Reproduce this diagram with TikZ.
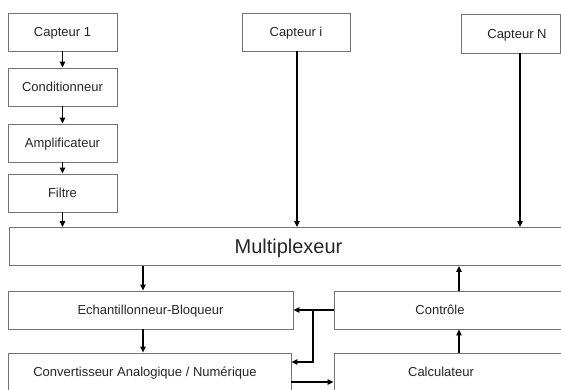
\documentclass[tikz,border=0pt]{standalone}
\usepackage{fontspec}
\setmainfont{Liberation Sans}
\usetikzlibrary{arrows.meta,calc}
\begin{document}
\begin{tikzpicture}[x=1pt,y=-1pt,
  box/.style={draw=black!55, line width=0.9pt, rectangle, inner sep=0pt,
    font=\fontsize{13}{15}\selectfont, text=black!85, text height=9.4pt, text depth=0pt},
  bigbox/.style={box, font=\fontsize{20}{24}\selectfont, text height=14.4pt},
  arr/.style={draw=black, line width=1.2pt, -{Triangle[length=6pt,width=5.5pt]}}]
\useasboundingbox (0,0) rectangle (561,390);
% top left chain
\node[box, minimum width=109pt, minimum height=38pt] (c1) at (62.5,32) {Capteur 1};
\node[box, minimum width=109pt, minimum height=38pt] (cond) at (62.5,87) {Conditionneur};
\node[box, minimum width=109pt, minimum height=38pt] (ampl) at (62.5,143) {Amplificateur};
\node[box, minimum width=109pt, minimum height=38pt] (filt) at (62.5,193) {Filtre};
% other sensors
\node[box, minimum width=108pt, minimum height=38pt] (ci) at (296,32) {Capteur i};
\node[box, minimum width=99pt, minimum height=39pt] (cn) at (510.5,33.5) {\hspace*{13pt}Capteur N};
% multiplexer
\node[bigbox, minimum width=553pt, minimum height=38pt] (mux) at (285.5,246.5) {\hspace*{6pt}Multiplexeur};
% lower blocks
\node[box, minimum width=285pt, minimum height=38pt] (ech) at (150.5,310) {Echantillonneur-Bloqueur};
\node[box, minimum width=283pt, minimum height=38pt] (conv) at (149.5,372) {Convertisseur Analogique / Numérique\hspace*{9pt}};
\node[box, minimum width=228pt, minimum height=38pt] (ctl) at (448,310) {Contrôle\hspace*{16pt}};
\node[box, minimum width=228pt, minimum height=38pt] (calc) at (448,372) {Calculateur\hspace*{14pt}};
% connectors chain
\draw[arr] (c1.south) -- (cond.north);
\draw[arr] (cond.south) -- (ampl.north);
\draw[arr] (ampl.south) -- (filt.north);
\draw[arr] (filt.south) -- (filt.south |- mux.north);
\draw[arr] ([xshift=1pt]ci.south) -- ([xshift=1pt]ci.south |- mux.north);
\draw[arr] ([xshift=9.5pt]cn.south) -- ([xshift=9.5pt]cn.south |- mux.north);
\draw[arr] ([xshift=-7.5pt]ech.north |- mux.south) -- ([xshift=-7.5pt]ech.north);
\draw[arr] ([xshift=-7.5pt]ech.south) -- ([xshift=-7.5pt]ech.south |- conv.north);
\draw[arr] ([xshift=11pt]ctl.north) -- ([xshift=11pt]ctl.north |- mux.south);
\draw[arr] ([xshift=11pt]calc.north) -- ([xshift=11pt]calc.north |- ctl.south);
\coordinate (j) at (313,310);
\draw[arr] (ctl.west) -- (ech.east);
\draw[arr] (j) |- ([yshift=10pt]conv.east);
\draw[arr] ([yshift=-10pt]conv.east) -- ([yshift=-10pt]conv.east -| calc.west);
\end{tikzpicture}
\end{document}
